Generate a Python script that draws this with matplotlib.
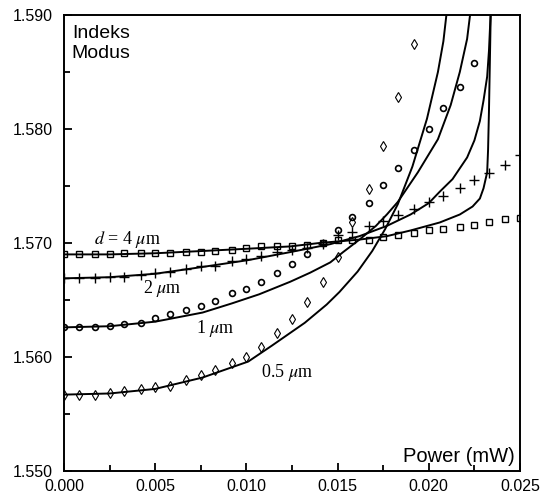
import matplotlib
matplotlib.use('Agg')
import matplotlib.pyplot as plt
from matplotlib.ticker import MultipleLocator, FormatStrFormatter

# measured points (power in mW, mode index)
power = [0.0000, 0.0008, 0.0017, 0.0025, 0.0033, 0.0042, 0.0050, 0.0058,
         0.0067, 0.0075, 0.0083, 0.0092, 0.0100, 0.0108, 0.0117, 0.0125,
         0.0133, 0.0142, 0.0150, 0.0158, 0.0167, 0.0175, 0.0183, 0.0192,
         0.0200, 0.0208, 0.0217, 0.0225, 0.0233, 0.0242, 0.0250]

n_4um = [1.5690, 1.5690, 1.5690, 1.5690, 1.5691, 1.5691, 1.5691, 1.5691,
         1.5692, 1.5692, 1.5693, 1.5694, 1.5696, 1.5697, 1.5697, 1.5697,
         1.5698, 1.5700, 1.5703, 1.5703, 1.5703, 1.5705, 1.5707, 1.5709,
         1.5711, 1.5712, 1.5714, 1.5716, 1.5718, 1.5721, 1.5722]

n_2um = [1.5669, 1.5669, 1.5669, 1.5670, 1.5670, 1.5672, 1.5674, 1.5675,
         1.5677, 1.5680, 1.5680, 1.5684, 1.5686, 1.5689, 1.5692, 1.5694,
         1.5696, 1.5699, 1.5707, 1.5710, 1.5715, 1.5719, 1.5725, 1.5730,
         1.5736, 1.5741, 1.5748, 1.5755, 1.5761, 1.5768, 1.5777]

n_1um = [1.5626, 1.5626, 1.5626, 1.5627, 1.5629, 1.5630, 1.5634, 1.5638,
         1.5641, 1.5645, 1.5649, 1.5656, 1.5660, 1.5666, 1.5674, 1.5682,
         1.5690, 1.5700, 1.5711, 1.5723, 1.5735, 1.5751, 1.5766, 1.5782,
         1.5800, 1.5818, 1.5837, 1.5858]

n_05um = [1.5567, 1.5567, 1.5567, 1.5568, 1.5570, 1.5572, 1.5574, 1.5575,
          1.5580, 1.5584, 1.5589, 1.5595, 1.5600, 1.5609, 1.5621, 1.5633,
          1.5648, 1.5666, 1.5688, 1.5718, 1.5747, 1.5785, 1.5828, 1.5875]

# theory curves
fit_4um_x = [0.0000, 0.0025, 0.0050, 0.0076, 0.0101, 0.0124, 0.0140, 0.0162,
             0.0177, 0.0190, 0.0206, 0.0217, 0.0224, 0.0228, 0.0230, 0.0232,
             0.02325, 0.0233, 0.02335, 0.0234]
fit_4um_y = [1.5690, 1.5690, 1.5691, 1.5693, 1.5695, 1.5697, 1.5700, 1.5703,
             1.5706, 1.5711, 1.5718, 1.5725, 1.5732, 1.5739, 1.5748, 1.5762,
             1.5782, 1.5817, 1.5861, 1.5905]

fit_2um_x = [0.0000, 0.0025, 0.0050, 0.0076, 0.0101, 0.0124, 0.0146, 0.0162,
             0.0177, 0.0190, 0.0200, 0.0206, 0.0213, 0.0221, 0.0225, 0.0228,
             0.0230, 0.0232, 0.0233, 0.0234]
fit_2um_y = [1.5669, 1.5670, 1.5673, 1.5679, 1.5685, 1.5692, 1.5699, 1.5706,
             1.5715, 1.5725, 1.5735, 1.5745, 1.5756, 1.5775, 1.5790, 1.5807,
             1.5825, 1.5846, 1.5869, 1.5905]

fit_1um_x = [0.0000, 0.0025, 0.0050, 0.0076, 0.0092, 0.0107, 0.0124, 0.0135,
             0.0146, 0.0153, 0.0162, 0.0171, 0.0177, 0.0183, 0.0194, 0.0205,
             0.0212, 0.0217, 0.0221, 0.0223]
fit_1um_y = [1.5626, 1.5627, 1.5631, 1.5639, 1.5647, 1.5655, 1.5666, 1.5674,
             1.5683, 1.5692, 1.5703, 1.5715, 1.5725, 1.5736, 1.5762, 1.5791,
             1.5821, 1.5850, 1.5879, 1.5905]

fit_05um_x = [0.0000, 0.0025, 0.0050, 0.0076, 0.0101, 0.0114, 0.0132, 0.0144,
              0.0151, 0.0161, 0.0169, 0.0176, 0.0183, 0.0191, 0.0199, 0.0205,
              0.0208, 0.0210]
fit_05um_y = [1.5567, 1.5568, 1.5572, 1.5582, 1.5596, 1.5610, 1.5630, 1.5646,
              1.5657, 1.5675, 1.5693, 1.5712, 1.5734, 1.5767, 1.5809, 1.5850,
              1.5877, 1.5905]

plt.rcParams['font.family'] = ['Liberation Sans', 'DejaVu Sans']
plt.rcParams['mathtext.fontset'] = 'stix'

fig = plt.figure(figsize=(5.44, 4.96), dpi=100)
ax = fig.add_axes([64/544, 25/496, 456/544, 456/496])

# markers
ax.plot(power, n_4um, 's', ms=4.4, mfc='none', mec='k', mew=1.0)
ax.plot(power, n_2um, '+', ms=6.5, mec='k', mew=1.0)
ax.plot(power[:len(n_1um)], n_1um, 'o', ms=4.2, mfc='none', mec='k', mew=1.2)
ax.plot(power[:len(n_05um)], n_05um, 'd', ms=4.8, mfc='none', mec='k', mew=0.8)

# theory
for fx, fy in [(fit_4um_x, fit_4um_y), (fit_2um_x, fit_2um_y),
               (fit_1um_x, fit_1um_y), (fit_05um_x, fit_05um_y)]:
    ax.plot(fx, fy, '-', color='k', lw=1.4)

ax.set_xlim(0, 0.025)
ax.set_ylim(1.550, 1.590)
ax.xaxis.set_major_locator(MultipleLocator(0.005))
ax.xaxis.set_minor_locator(MultipleLocator(0.0025))
ax.yaxis.set_major_locator(MultipleLocator(0.010))
ax.yaxis.set_minor_locator(MultipleLocator(0.005))
ax.xaxis.set_major_formatter(FormatStrFormatter('%.3f'))
ax.yaxis.set_major_formatter(FormatStrFormatter('%.3f'))
ax.tick_params(which='both', direction='in', top=False, right=False,
               width=1.3, labelsize=11.5)
ax.tick_params(axis='x', which='major', length=6, pad=6)
ax.tick_params(axis='y', which='major', length=6, pad=8)
ax.tick_params(which='minor', length=4)
for s in ax.spines.values():
    s.set_linewidth(1.4)

# labels
ax.text(0.017, 0.978, 'Indeks\nModus', transform=ax.transAxes, ha='left',
        va='top', fontsize=14, linespacing=1.2)
ax.text(0.988, 0.012, 'Power (mW)', transform=ax.transAxes, ha='right',
        va='bottom', fontsize=14.5)

serif = ['Liberation Serif', 'DejaVu Serif']
ax.text(0.00345, 1.5703, r'$d$ = 4 $\mu$m', ha='center', va='center',
        fontsize=13, family=serif)
ax.text(0.00537, 1.5660, r'2 $\mu$m', ha='center', va='center',
        fontsize=13, family=serif)
ax.text(0.00828, 1.5625, r'1 $\mu$m', ha='center', va='center',
        fontsize=13, family=serif)
ax.text(0.01223, 1.5586, r'0.5 $\mu$m', ha='center', va='center',
        fontsize=13, family=serif)

fig.savefig('out.png', dpi=100)
